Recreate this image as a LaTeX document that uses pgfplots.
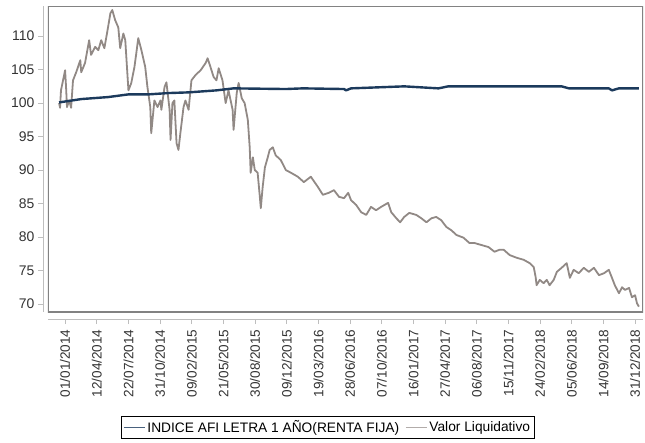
\documentclass[border=0pt]{standalone}
\usepackage{pgfplots}
\pgfplotsset{compat=1.18}
\usepackage{fontspec}
\setmainfont{Liberation Sans}
\definecolor{navy}{RGB}{28,58,92}
\definecolor{liqgray}{RGB}{145,137,133}
\definecolor{axgray}{RGB}{190,190,190}
\definecolor{framegray}{RGB}{130,130,130}
\begin{document}
\begin{tikzpicture}
\path[use as bounding box] (-48bp,-131bp) rectangle (597bp,312bp);
\begin{axis}[
  scale only axis, width=595bp, height=306bp,
  xmin=-0.54, xmax=18.25, ymin=68.8, ymax=114.5,
  axis lines*=left,
  axis x line shift=7bp, axis y line shift=5bp,
  axis line style={axgray, line width=0.8bp},
  xtick={0,...,18},
  xticklabels={01/01/2014,12/04/2014,22/07/2014,31/10/2014,09/02/2015,21/05/2015,30/08/2015,09/12/2015,19/03/2016,28/06/2016,07/10/2016,16/01/2017,27/04/2017,06/08/2017,15/11/2017,24/02/2018,05/06/2018,14/09/2018,31/12/2018},
  ytick={70,75,...,110},
  tick style={axgray, line width=0.8bp},
  tick align=outside, major tick length=5bp,
  xticklabel shift=2bp,
  xticklabel style={rotate=90, anchor=east, font=\fontsize{13.6}{13.6}\selectfont, text=black!80},
  yticklabel style={font=\fontsize{14}{14}\selectfont, text=black!80},
  /pgf/number format/assume math mode=true,
  legend columns=2,
  legend cell align=left,
  legend style={at={(0.47,-0.34)}, anchor=north, draw=black, line width=0.8bp,
    font=\fontsize{13.8}{13.8}\selectfont, inner sep=2bp,
    /tikz/every even column/.append style={column sep=4bp}},
  legend image code/.code={\draw[#1] (0bp,0bp) -- (21bp,0bp);},
]
\draw[framegray, line width=1.2bp] (rel axis cs:0,0) rectangle (rel axis cs:1,1);
\addplot[liqgray, line width=1.8bp, line join=round, forget plot] coordinates {
(-0.19,100.0) (-0.16,99.3) (-0.13,101.9) (0.00,104.9) (0.03,102.4) (0.06,99.4)
(0.13,100.4) (0.19,99.3) (0.25,103.4) (0.35,104.6) (0.48,106.4) (0.51,104.6)
(0.63,106.0) (0.76,109.4) (0.82,107.2) (0.95,108.4) (1.05,107.9) (1.14,109.4)
(1.24,108.2) (1.33,110.6) (1.43,113.4) (1.49,113.9) (1.58,112.4) (1.68,111.3)
(1.74,108.2) (1.84,110.4) (1.90,109.4) (2.00,101.9) (2.09,103.0) (2.19,105.4)
(2.25,107.5) (2.31,109.7) (2.41,107.9) (2.53,105.4) (2.60,102.4) (2.69,99.4)
(2.72,95.5) (2.82,100.4) (2.92,99.4) (3.01,100.4) (3.04,99.0) (3.14,102.4)
(3.20,103.1) (3.30,99.0) (3.33,94.5) (3.39,100.0) (3.45,100.4) (3.52,94.0)
(3.58,93.0) (3.64,95.5) (3.74,99.4) (3.80,100.4) (3.90,99.0) (3.99,103.4)
(4.12,104.2) (4.28,104.9) (4.44,106.0) (4.50,106.7) (4.59,105.4) (4.69,103.9)
(4.78,103.4) (4.85,105.2) (4.97,103.4) (5.07,100.0) (5.16,101.9) (5.29,99.0)
(5.32,96.0) (5.42,101.5) (5.48,103.0) (5.58,100.7) (5.67,100.0) (5.77,97.5)
(5.83,93.4) (5.86,89.6) (5.93,91.9) (5.99,90.0) (6.08,89.6) (6.15,86.0)
(6.18,84.3) (6.24,87.5) (6.31,90.4) (6.40,91.9) (6.46,93.0) (6.56,93.4)
(6.65,92.2) (6.81,91.5) (6.97,90.0) (7.13,89.6) (7.35,89.0) (7.54,88.2)
(7.76,89.0) (7.98,87.5) (8.14,86.3) (8.33,86.6) (8.49,87.0) (8.65,86.0)
(8.81,85.8) (8.94,86.6) (9.03,85.5) (9.19,84.8) (9.35,83.7) (9.51,83.3)
(9.66,84.5) (9.82,84.0) (9.98,84.5) (10.20,85.1) (10.30,83.7) (10.46,82.8)
(10.58,82.2) (10.71,83.0) (10.87,83.6) (11.09,83.3) (11.25,82.8) (11.41,82.2)
(11.57,82.8) (11.72,83.0) (11.88,82.5) (12.04,81.5) (12.20,81.0) (12.36,80.3)
(12.58,79.9) (12.77,79.1) (12.93,79.1) (13.15,78.8) (13.37,78.5) (13.56,77.8)
(13.72,78.1) (13.85,78.1) (14.04,77.3) (14.26,76.9) (14.48,76.6) (14.67,76.1)
(14.80,75.5) (14.86,74.0) (14.89,72.8) (14.99,73.6) (15.11,73.1) (15.21,73.6)
(15.30,72.8) (15.43,73.6) (15.53,74.8) (15.68,75.4) (15.84,76.1) (15.94,73.9)
(16.06,75.1) (16.22,74.6) (16.38,75.4) (16.54,74.8) (16.70,75.4) (16.86,74.3)
(17.02,74.6) (17.17,75.1) (17.27,73.9) (17.36,72.8) (17.49,71.6) (17.59,72.5)
(17.68,72.1) (17.81,72.4) (17.90,71.0) (18.00,71.3) (18.06,70.1) (18.12,69.6)
};
\addplot[navy, line width=2.4bp, line join=round, forget plot] coordinates {
(-0.19,100.1) (0.51,100.6) (1.36,100.9) (2.00,101.3) (2.63,101.3) (3.27,101.5)
(3.90,101.6) (4.78,101.9) (5.32,102.2) (6.97,102.1) (7.51,102.2) (8.81,102.1)
(8.87,101.9) (9.03,102.2) (10.71,102.5) (11.79,102.2) (12.10,102.5) (14.42,102.5)
(15.68,102.5) (15.91,102.2) (17.17,102.2) (17.27,101.9) (17.49,102.2) (18.12,102.2)
};
\addlegendimage{color=navy!80!white, line width=1.2bp}
\addlegendentry{INDICE AFI LETRA 1 AÑO(RENTA FIJA)}
\addlegendimage{color=liqgray!70!white, line width=1.2bp}
\addlegendentry{Valor Liquidativo}
\end{axis}
\end{tikzpicture}
\end{document}
